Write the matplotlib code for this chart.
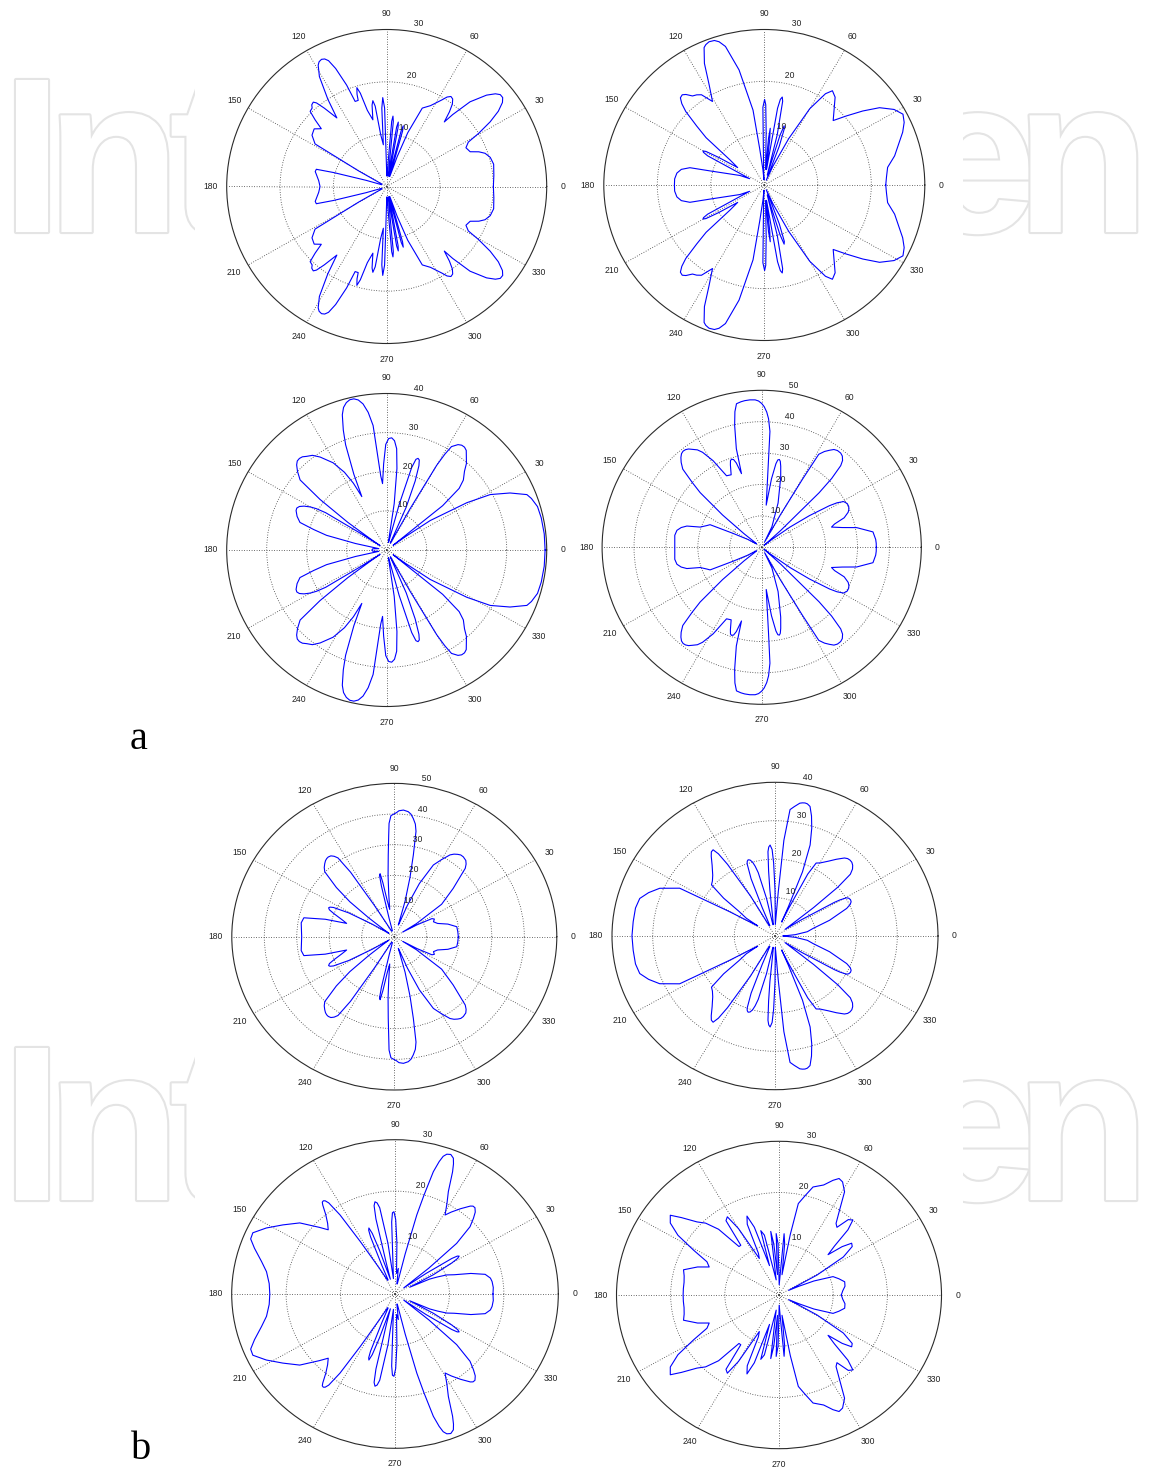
import numpy as np
import matplotlib
matplotlib.use("Agg")
import matplotlib.pyplot as plt
import matplotlib.patheffects as pe
from matplotlib.patches import Rectangle

# ---------------- data (upper half 0..180 deg; every pattern is symmetric about the 0-180 axis) ----
A1_ANG = [0,6,12,16,19,21,23,26.5,29,30.5,32.5,34.5,36.5,38,39.5,41,43,46,48,48.8,50.5,52,53.5,55,56.5,58,62,66,69,71,
          73,74.3,75,75.7,77,79.3,80,80.7,82,84.3,85,85.7,87.5,89.5,91.5,92.5,93.5,94.5,96.5,98,99,100,101.5,104,105.5,
          106.5,107.5,108,110,111.2,113,114.4,115.5,116.7,118,119,121,123.5,125.5,128,129.5,130.5,132,133,135,136.5,
          138,141,145,148.8,150.5,153,160,163,165,166,168,170,175,180]
A1_R = [20,20.2,20.5,20.2,19.5,18.5,17,16.6,17.5,20,23,25.4,27,27.6,27.6,27,25.6,22.5,18.5,16.4,18.5,20,20.8,21,20.5,19.5,17.5,16.4,11,6,
        2,11,12,11,2,11.5,12.5,11.5,2,12.5,13.5,12.5,3,2,15,17,15,8,10,15.5,16.6,15.8,13,15,18.5,
        19.7,18.5,17.3,17.3,20.8,24.5,26.4,27,27.2,27,26.5,24.5,20,16.1,19,20.7,21.2,21,20.5,20.3,18.5,
        16.5,17.5,17.1,15.7,6,1,1,4,10.3,13.6,13.7,13.4,12.8,12.5]

A2_ANG = [0,4,8.4,13,18.3,21.5,24.8,27.8,31,34.7,37.8,41,44,48,52,55,57,60,63,66,68,69.5,71,72,73,74,76,78,78.8,79.7,
          80.5,82,83.5,84.2,85,85.5,88,89,89.8,91,92.5,93.5,95,97,98.3,102,105.2,107,108.5,110.5,112,113,115.5,118,121,
          124,126,128,130,131.4,133,134.5,136,138,140,143,146,148,149.3,150.2,151,152,154,156,158,165,166.5,169,172,176,180]
A2_R = [22.7,22.9,23.3,25,26.6,27.8,28.8,29.3,28.3,26.2,23.3,20.3,17.9,19.5,21.5,22.2,21,17,10,4,1,8,11.5,12,10,2,10,16.5,17.3,16.8,
        15,3,9,11,9,3,10,15.5,16.5,15,3,1,3,7,14.6,22.7,27.7,28.9,29.4,29.5,29.2,28.8,26,22,18.8,
        21,21.5,21.8,22.8,23.2,23,22,20.4,17,14.2,8,6,10,12.7,13.2,13,12,5,3,4.9,10.5,14.3,15.8,16.5,16.8,16.8]

A3_ANG = [0,6,12,16.4,20,22,25.3,28.7,31.1,34.7,36,37,39,41,43,46,48,50,52,53.5,55,56.5,58.5,59.3,60,61,62,63,66,68,
          69.5,70.5,71.5,72.5,73.5,75,76.5,78,81,83,84.5,86,87.5,89,90.5,92,93.5,94.5,96.1,97.5,99,100.5,102,103.5,105,
          106.5,107.8,109.5,110.9,113,114.5,116,118,121,125,127.5,129.9,131.5,133,134.5,136,138,140.4,142.2,144,145,146,
          147,148,149,150,151.5,153,154.5,156,159,162,164,166,168,170,175,180]
A3_R = [39.6,39.6,39.5,39.3,38.5,37.8,34.1,29.5,23.4,13.2,6,2,18,24,26.2,28,29.8,31,32.3,32.7,32.7,32.3,31,28.5,25,12,2,2,12,19,
        23,24.4,24.7,24.3,22,12,2,2,12,21,26,28,28.7,28.5,27,22,17,19,32,35.5,37.8,39,39.5,39.5,39,
        38,36.3,32.5,28.8,21,15,19,22.5,26,29,30.5,31.2,31.8,32,31.9,31.3,30,28.1,21.1,12,5,2,
        8,18,20.5,22,23.5,24.5,24.9,24.8,24,22.8,19,15.5,8,2,3.5,3.7]

A4_ANG = [0,2,4,8,11.9,14,16.4,18,20,22.4,24,25.5,27.5,29.6,31,32,34,36,38,40,42,44,45,46.4,47.5,49,50.5,52.4,54,55.5,
          57.2,58.9,59.5,60.5,62,64,70,75,77,78,78.8,79.7,80.5,82,84,85,85.5,86,87,87.9,89,90,91.2,92.5,94.5,96.5,98,
          99.8,101,102.3,104.2,105.1,106.5,107.5,108.6,109.5,110.5,112.5,115.8,118.9,121.5,123,124.8,126.2,127.5,128.8,
          130.1,131.5,133,134.8,136.5,137.9,140,142,144,147,150,153.7,156,158,161.5,163.9,166,168.5,172,176,180]
A4_R = [35.9,35.9,35.8,35.2,30.4,26,22.8,24,27.5,29.3,29.9,30.2,30.2,29.5,27.5,25,18,11,4,1,8,25,31,35.9,37.5,38.5,38.9,38.9,38.5,37.5,
        36.3,34.6,25,12,2,7.3,15,23,26.5,28,28.5,28.3,27,22,13.5,20,27,37,41,43.1,44.8,45.8,46.6,47,47.1,47,46.8,
        46.4,44,39.8,32.4,24.3,28,29.3,29.6,29.3,28,25,25.3,31.5,35.5,37,38,38.8,39.2,39.3,
        39,38.2,37,35.1,30,26,16,7,2,2,5,10,17.7,18.5,20.3,24.4,26,27.1,27.5,27.3,27.2]

B1_ANG = [0,5,9.6,14,18,22,25,27,29,30.5,32,36,41,45.6,47,48.5,50.8,52.5,54,55.7,57.3,60,62.8,66,68.5,70.5,72,74,76,77.6,
          79,80,81.4,82.7,84,86.1,88,89,91.5,92.5,93,94,95.5,97,99,100.5,101.3,102,102.8,103.5,105,107,115,119,121,
          122.6,124,125.2,126.5,128,129.2,130.5,132,133.7,135.3,138,140.2,142,144,146,149,151,153,154,155,156.3,158,161,
          163.5,165,167.5,171,175,180]
B1_R = [19.7,19.6,19.5,17,14,13,13.6,13,8,3,8,18,24,31.2,32.4,33.2,33.6,33.6,33.2,32.6,31.7,29,26.3,19,11,5,4,12,20,27.3,
        35,37.3,39,40.3,41,41.4,41.1,40.5,39.5,37,33,26.7,20,14,9,12,18,21,20.5,17,6,2,2,5,12,
        25,31,32.1,32.8,33,32.9,32.6,32,31.2,30.1,24,17.8,10,4,2,8,16,21,22,22.3,21.8,20,17,
        15.3,22,28.5,29,28.7,28.5]

B2_ANG = [0,4,8,12,17,22.2,24,25.5,27,28.5,29.5,30.5,31,33,35,38,39.5,41,42.5,44,45.5,47,48.5,50,53,56,59.8,62,63.5,65,
          66,66.7,68,70,72.2,74,75.7,77,78,79,80,82,83.6,85,86,87.5,88.5,90,91,91.8,92.9,93.8,94.5,95.3,96,97.5,100,102,
          104,105,106,107.2,108.4,109.3,110,111.5,113,115,118,120,122,123,124.1,125.5,127,130,134,137,139.5,142,144,
          146.7,148,149,150.4,152,156.3,160,163.6,168,173.9,180]
B2_R = [2,5,8,9.6,14,19,20.2,20.7,20.8,20.6,20.2,18.5,17,8,3,12,20,24.5,25.8,26.5,26.9,27,26.9,26.5,25,23.5,22,21.5,18,8,
        4,8.3,18,25.2,29.5,32.5,34.8,35.3,35.4,35.3,35.1,34,33.1,25,11.6,4,3,12,19,22.5,23.7,23.2,22,17,12,3,3,10,
        17,18.8,20,20.7,20.9,20.6,20,16,8,3,3,12,22,25.5,27.1,26.9,26,24,22,21,20.5,16,11,
        8.4,5,6,12.7,26.5,30.9,33,34.6,35,35,35.1]

B3_ANG = [0,4,7.7,10,13,16,19,21.3,23,24.5,26,28,30,31,32,32.8,33.5,35,36.5,39,41,43.5,45.6,47.2,48.8,50,51,54,57,59.1,
          61.5,63.8,66,67,67.9,69.3,70.7,71.7,72.5,73.5,74.5,75.4,76.5,78,80,83,86,88,89.5,90.7,91.7,92.5,94,95.5,97.5,
          99.5,100.5,101.6,102.6,103.5,105,106.5,108.5,109.5,110.5,111.3,112,113.5,115,117,120,122,123.3,124.5,125.3,126,
          126.8,127.5,129.5,132,134.5,137,141.7,146.9,151.5,155.5,158,161,165.6,169.6,175,180]
B3_R = [18,18.1,18,17.8,17,14.5,11.5,10.2,8.5,7,3,8,12,13.4,13.9,13.6,12.5,7,2,8,15,19,20.6,21.7,22.3,22.3,22,20.5,19,17.9,
        20,22.2,26,27.5,28.5,29,28.8,28.2,27,24.8,20,15.9,8,2,2,5,4,10,14.5,16,15.8,14,5,3,10,
        17,18,18.3,17.6,15,6,3,9,12.5,13.7,13.3,12,6,3,3,6,12,18.4,21.5,22.2,22.4,
        22.3,21.8,20,18.5,17.5,19,22.3,24.6,26.9,28.7,28.6,27.3,25.3,24,23.2,23]

B4_ANG = [0,4,8,12,16,19.8,23,25,27,29,32,35,37,39,41,43,45,47,49,51,53,56,59,62,64,66,69,73.4,76,78.7,
          80,82,84,85.5,87,89,91,92.5,94,95.5,97,98.5,100,103,105,107,109,111,113,115,
          117,120,122,124,126,128,131,134,136.7,140,142.2,145,148,151,154,157,160,164.4,168,172,176,180]
B4_R = [11.5,11.8,12.3,12.4,11.5,10.6,7,4,2,8,14,16.5,16.8,15,12,14,18,20,19.5,17,17.5,20,23.5,25,25.3,24.5,23,22,20,18.2,
        12,4,10,12,4,2,10,12,4,10,12.5,5,3,12,13,6,14,16.5,15,9,
        8,15,18,17.5,12,12,17,19.5,20.8,23.5,25.4,24.5,22,18,14.8,14,16,18.3,17.9,17.7,17.7,17.7]

ANGLE_TICKS = [0, 30, 60, 90, 120, 150, 180, 210, 240, 270, 300, 330]
ANGLE_LABELS = ["0", "30", "60", "90", "120", "150", "180", "210", "240", "270", "300", "330"]
PANEL_LETTERS = ["a", "b"]

PANELS = [
    (A1_ANG, A1_R, 30),
    (A2_ANG, A2_R, 30),
    (A3_ANG, A3_R, 40),
    (A4_ANG, A4_R, 50),
    (B1_ANG, B1_R, 50),
    (B2_ANG, B2_R, 40),
    (B3_ANG, B3_R, 30),
    (B4_ANG, B4_R, 30),
]
# pixel geometry: centre x, centre y, horizontal radius, vertical radius
GEOM = [
    (386.7, 186.5, 160.0, 157.0),
    (764.3, 185.0, 160.5, 155.5),
    (386.7, 550.0, 160.0, 156.5),
    (761.7, 547.3, 159.6, 157.0),
    (394.3, 936.7, 162.5, 153.3),
    (775.0, 936.0, 163.0, 153.7),
    (395.0, 1294.0, 163.3, 154.3),
    (779.0, 1295.0, 162.5, 153.7),
]

W, H = 1151, 1468
fig = plt.figure(figsize=(W / 100, H / 100), dpi=100)
fig.patch.set_facecolor("white")

# watermark letters (outlined), hidden in the middle by the white figure panel
wm_fx = [pe.Stroke(linewidth=3.0, foreground="#e4e4e4"), pe.Normal()]
wm_kw = dict(fontsize=159, family="Liberation Sans", weight="bold", color="white",
             va="baseline", path_effects=wm_fx, zorder=-3)
for base in (232, 1200):
    yb = (H - base) / H
    fig.text(1 / W, yb, "I", ha="left", **wm_kw)
    fig.text(46 / W, yb, "n", ha="left", **wm_kw)
    fig.text(169 / W, yb, "t", ha="left", **wm_kw)
    fig.text(1037 / W, yb, "e", ha="right", **wm_kw)
    fig.text(1150 / W, yb, "n", ha="right", **wm_kw)
fig.add_artist(Rectangle((195 / W, 0), (963 - 195) / W, 1, transform=fig.transFigure,
                         facecolor="white", edgecolor="none", zorder=-2))

lab_font = dict(fontsize=6.2, family="Liberation Sans", color="#222222")

for (ang, rr, rmax), (cx, cy, rh, rv) in zip(PANELS, GEOM):
    ax = fig.add_axes([(cx - rh) / W, (H - cy - rv) / H, 2 * rh / W, 2 * rv / H], projection="polar")
    ax.set_aspect("auto")
    ax.set_facecolor("white")
    ua = np.asarray(ang, float)
    ur = np.asarray(rr, float)
    fa = np.concatenate([ua, 360.0 - ua[::-1][1:]])
    fr = np.concatenate([ur, ur[::-1][1:]])
    ax.plot(np.deg2rad(fa), fr, color="#0000ff", lw=0.8, zorder=3)
    ax.set_ylim(0, rmax)
    ax.set_xticks(np.deg2rad(ANGLE_TICKS))
    ax.set_xticklabels([])
    ax.set_yticks(np.arange(10, rmax, 10))
    ax.set_yticklabels([])
    ax.tick_params(length=0, pad=0)
    ax.grid(True, color="#3a3a3a", linestyle=(0, (1, 2)), linewidth=0.6)
    ax.spines["polar"].set_color("#2a2a2a")
    ax.spines["polar"].set_linewidth(0.8)
    for a, lab in zip(ANGLE_TICKS, ANGLE_LABELS):
        ax.text(np.deg2rad(a), 1.1 * rmax, lab, ha="center", va="center", clip_on=False, **lab_font)
    for r in range(10, rmax + 1, 10):
        ax.text(np.deg2rad(82), r + 0.5, "  %d" % r, ha="left", va="bottom", clip_on=False, zorder=4, **lab_font)

fig.text(130 / W, (H - 749) / H, PANEL_LETTERS[0], fontsize=29, family="Liberation Serif", ha="left", va="baseline")
fig.text(131 / W, (H - 1459) / H, PANEL_LETTERS[1], fontsize=29, family="Liberation Serif", ha="left", va="baseline")

fig.savefig("out.png", dpi=100, facecolor="white")
